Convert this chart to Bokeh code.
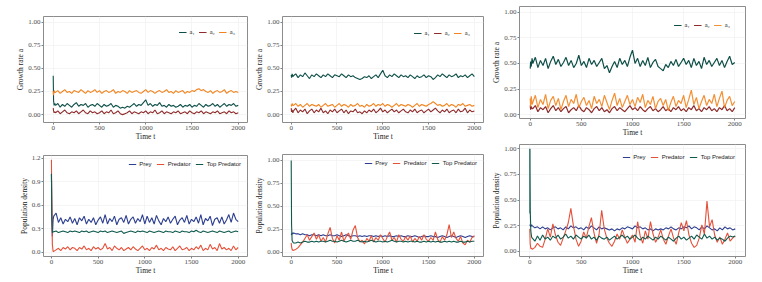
from bokeh.plotting import figure
from bokeh.layouts import row, column
from bokeh.models import FixedTicker, NumeralTickFormatter, Range1d
from bokeh.embed import file_html
from bokeh.resources import INLINE

# ---------------- data ----------------
T_GRID = list(range(25, 2001, 25))      # sampling times after the initial transient
HEAD_T = [0, 4, 10, 18]                 # times of the initial transient

X_TICKS = [0, 500, 1000, 1500, 2000]
Y_TICKS_A = [0, 0.25, 0.5, 0.75, 1.0]
Y_TICKS_P4 = [0, 0.3, 0.6, 0.9, 1.2]

TOP_LABELS = ["a\u2081", "a\u2082", "a\u2083"]
BOT_LABELS = ["Prey", "Predator", "Top Predator"]

# panel 1 (growth rates)
P1_A1_HEAD = [0.42, 0.15, 0.10, 0.12]
P1_A1 = [0.10,0.12,0.08,0.11,0.09,0.12,0.10,0.08,0.11,0.13,
         0.09,0.11,0.10,0.12,0.08,0.10,0.11,0.09,0.12,0.10,
         0.08,0.11,0.09,0.10,0.12,0.08,0.10,0.09,0.07,0.08,
         0.07,0.09,0.08,0.10,0.12,0.09,0.11,0.10,0.13,0.16,
         0.10,0.12,0.09,0.11,0.10,0.13,0.09,0.10,0.08,0.11,
         0.09,0.10,0.08,0.09,0.11,0.08,0.10,0.09,0.11,0.08,
         0.10,0.09,0.12,0.10,0.08,0.11,0.09,0.10,0.12,0.09,
         0.11,0.08,0.10,0.12,0.09,0.11,0.10,0.12,0.09,0.10]
P1_A2_HEAD = [0.07, 0.04, 0.02, 0.03]
P1_A2 = [0.02,0.04,0.01,0.03,0.05,0.02,0.01,0.03,0.02,0.04,
         0.01,0.03,0.05,0.02,0.01,0.04,0.02,0.03,0.01,0.02,
         0.04,0.01,0.03,0.02,0.05,0.01,0.02,0.04,0.01,0.00,
         0.01,0.02,0.04,0.01,0.03,0.02,0.01,0.03,0.02,0.04,
         0.01,0.03,0.02,0.05,0.01,0.02,0.04,0.01,0.03,0.02,
         0.01,0.03,0.02,0.04,0.01,0.02,0.03,0.01,0.04,0.02,
         0.01,0.03,0.02,0.04,0.01,0.03,0.02,0.01,0.03,0.02,
         0.04,0.01,0.02,0.03,0.01,0.04,0.02,0.03,0.01,0.02]
P1_A3_HEAD = [0.25, 0.21, 0.26, 0.24]
P1_A3 = [0.24,0.26,0.23,0.25,0.27,0.24,0.25,0.23,0.26,0.25,
         0.24,0.27,0.25,0.23,0.26,0.24,0.25,0.27,0.24,0.26,
         0.23,0.25,0.26,0.24,0.25,0.27,0.23,0.25,0.24,0.26,
         0.25,0.23,0.26,0.24,0.25,0.26,0.24,0.23,0.25,0.27,
         0.24,0.26,0.25,0.23,0.25,0.26,0.24,0.25,0.27,0.24,
         0.25,0.23,0.26,0.24,0.25,0.26,0.23,0.25,0.24,0.26,
         0.25,0.27,0.28,0.26,0.27,0.25,0.24,0.26,0.23,0.25,
         0.26,0.24,0.25,0.27,0.23,0.25,0.26,0.24,0.25,0.24]

# panel 2 (growth rates)
P2_A1_HEAD = [0.43, 0.40, 0.44, 0.41]
P2_A1 = [0.42,0.44,0.40,0.43,0.41,0.45,0.42,0.39,0.43,0.41,
         0.44,0.42,0.40,0.43,0.41,0.44,0.42,0.40,0.43,0.42,
         0.41,0.44,0.42,0.40,0.43,0.41,0.42,0.40,0.39,0.38,
         0.39,0.41,0.40,0.42,0.39,0.41,0.43,0.40,0.44,0.48,
         0.42,0.40,0.43,0.41,0.44,0.42,0.40,0.43,0.41,0.42,
         0.40,0.43,0.41,0.39,0.42,0.40,0.41,0.43,0.40,0.42,
         0.41,0.38,0.40,0.43,0.41,0.44,0.42,0.40,0.43,0.41,
         0.42,0.44,0.40,0.42,0.41,0.43,0.40,0.42,0.44,0.41]
P2_A2_HEAD = [0.07, 0.03, 0.05, 0.02]
P2_A2 = [0.04,0.07,0.02,0.05,0.03,0.06,0.01,0.04,0.06,0.02,
         0.05,0.03,0.07,0.02,0.04,0.01,0.05,0.03,0.06,0.02,
         0.04,0.06,0.02,0.05,0.01,0.04,0.03,0.06,0.02,0.03,
         0.01,0.04,0.02,0.05,0.03,0.06,0.02,0.04,0.07,0.03,
         0.05,0.02,0.04,0.06,0.03,0.05,0.02,0.04,0.06,0.03,
         0.02,0.05,0.03,0.06,0.02,0.04,0.05,0.02,0.04,0.06,
         0.03,0.05,0.07,0.04,0.02,0.05,0.03,0.06,0.02,0.04,
         0.05,0.02,0.06,0.03,0.04,0.07,0.02,0.05,0.03,0.04]
P2_A3_HEAD = [0.11, 0.09, 0.12, 0.10]
P2_A3 = [0.10,0.12,0.09,0.11,0.08,0.10,0.12,0.09,0.11,0.10,
         0.09,0.11,0.08,0.10,0.12,0.09,0.10,0.11,0.08,0.10,
         0.12,0.09,0.11,0.10,0.08,0.11,0.09,0.10,0.12,0.09,
         0.10,0.08,0.11,0.09,0.10,0.12,0.09,0.11,0.10,0.12,
         0.09,0.11,0.10,0.08,0.10,0.12,0.09,0.11,0.10,0.09,
         0.11,0.10,0.08,0.10,0.12,0.09,0.11,0.10,0.09,0.11,
         0.12,0.14,0.12,0.10,0.11,0.09,0.10,0.12,0.09,0.11,
         0.10,0.08,0.11,0.10,0.12,0.09,0.10,0.11,0.09,0.10]

# panel 3 (growth rates)
P3_A1_HEAD = [0.45, 0.52, 0.47, 0.55]
P3_A1 = [0.50,0.56,0.46,0.53,0.48,0.55,0.45,0.52,0.57,0.49,
         0.54,0.47,0.51,0.56,0.48,0.53,0.46,0.50,0.58,0.48,
         0.52,0.46,0.55,0.49,0.53,0.47,0.51,0.55,0.45,0.48,
         0.41,0.47,0.52,0.46,0.55,0.49,0.53,0.47,0.56,0.63,
         0.50,0.55,0.47,0.53,0.48,0.56,0.46,0.51,0.54,0.47,
         0.45,0.43,0.49,0.46,0.52,0.48,0.54,0.47,0.51,0.55,
         0.49,0.53,0.46,0.55,0.48,0.52,0.45,0.56,0.49,0.53,
         0.47,0.51,0.55,0.48,0.53,0.46,0.52,0.57,0.49,0.51]
P3_A2_HEAD = [0.09, 0.05, 0.08, 0.06]
P3_A2 = [0.06,0.09,0.03,0.07,0.05,0.08,0.02,0.06,0.09,0.04,
         0.07,0.03,0.06,0.08,0.02,0.05,0.07,0.04,0.09,0.05,
         0.03,0.07,0.05,0.02,0.06,0.08,0.04,0.07,0.03,0.05,
         0.02,0.06,0.08,0.04,0.07,0.05,0.03,0.06,0.09,0.05,
         0.07,0.04,0.08,0.05,0.03,0.06,0.08,0.04,0.06,0.03,
         0.05,0.08,0.04,0.06,0.03,0.07,0.05,0.08,0.04,0.06,
         0.03,0.07,0.05,0.09,0.04,0.06,0.03,0.07,0.05,0.08,
         0.04,0.06,0.03,0.07,0.05,0.09,0.04,0.06,0.03,0.07]
P3_A3_HEAD = [0.16, 0.08, 0.18, 0.10]
P3_A3 = [0.12,0.19,0.07,0.15,0.10,0.20,0.06,0.14,0.18,0.09,
         0.16,0.05,0.13,0.19,0.08,0.15,0.11,0.20,0.07,0.13,
         0.17,0.09,0.14,0.06,0.18,0.11,0.15,0.08,0.19,0.12,
         0.05,0.14,0.21,0.09,0.16,0.07,0.13,0.19,0.10,0.15,
         0.08,0.17,0.12,0.20,0.07,0.14,0.10,0.18,0.06,0.13,
         0.16,0.09,0.15,0.04,0.12,0.18,0.08,0.14,0.11,0.19,
         0.07,0.15,0.24,0.10,0.17,0.06,0.13,0.19,0.09,0.15,
         0.11,0.20,0.08,0.16,0.23,0.07,0.14,0.18,0.09,0.13]

# panel 4 (population densities)
P4_PREY_HEAD = [1.0, 0.5, 0.2, 0.42]
P4_PREY = [0.46,0.50,0.38,0.44,0.36,0.42,0.39,0.45,0.37,0.43,
           0.35,0.44,0.40,0.46,0.36,0.42,0.38,0.44,0.35,0.41,
           0.45,0.37,0.48,0.36,0.43,0.39,0.46,0.35,0.42,0.44,
           0.38,0.47,0.36,0.42,0.45,0.37,0.43,0.39,0.48,0.36,
           0.46,0.38,0.44,0.36,0.47,0.40,0.35,0.43,0.39,0.45,
           0.37,0.42,0.46,0.35,0.41,0.44,0.38,0.47,0.36,0.42,
           0.39,0.45,0.37,0.48,0.35,0.43,0.40,0.46,0.34,0.42,
           0.44,0.37,0.45,0.36,0.41,0.48,0.38,0.50,0.42,0.39]
P4_PRED_HEAD = [1.18, 0.6, 0.1, 0.01]
P4_PRED = [0.01,0.03,0.05,0.02,0.06,0.04,0.07,0.03,0.06,0.05,
           0.02,0.06,0.04,0.08,0.03,0.05,0.02,0.07,0.04,0.06,
           0.03,0.05,0.11,0.04,0.06,0.02,0.08,0.05,0.03,0.06,
           0.02,0.04,0.06,0.03,0.07,0.04,0.02,0.05,0.08,0.03,
           0.05,0.02,0.06,0.04,0.09,0.03,0.05,0.02,0.06,0.04,
           0.03,0.07,0.02,0.05,0.08,0.03,0.04,0.06,0.02,0.05,
           0.03,0.07,0.04,0.09,0.02,0.05,0.03,0.10,0.04,0.06,
           0.02,0.11,0.04,0.06,0.03,0.05,0.02,0.08,0.03,0.06]
P4_TOP_HEAD = [1.0, 0.45, 0.25, 0.26]
P4_TOP = [0.26,0.27,0.25,0.26,0.27,0.26,0.25,0.27,0.26,0.27,
          0.26,0.25,0.27,0.26,0.27,0.25,0.26,0.27,0.26,0.25,
          0.27,0.26,0.27,0.25,0.26,0.27,0.26,0.25,0.26,0.27,
          0.24,0.25,0.26,0.27,0.26,0.25,0.27,0.26,0.27,0.26,
          0.25,0.27,0.26,0.25,0.26,0.27,0.26,0.25,0.27,0.26,
          0.26,0.25,0.27,0.26,0.25,0.27,0.26,0.26,0.25,0.27,
          0.26,0.28,0.26,0.25,0.27,0.26,0.25,0.26,0.27,0.26,
          0.25,0.27,0.26,0.25,0.26,0.27,0.25,0.26,0.27,0.26]

# panel 5 (population densities)
P5_PREY_HEAD = [0.20, 0.19, 0.21, 0.20]
P5_PREY = [0.21,0.20,0.20,0.19,0.20,0.19,0.19,0.18,0.19,0.19,
           0.18,0.19,0.18,0.19,0.18,0.18,0.19,0.18,0.18,0.19,
           0.18,0.17,0.18,0.19,0.18,0.17,0.18,0.18,0.17,0.18,
           0.17,0.18,0.17,0.18,0.18,0.17,0.18,0.17,0.18,0.17,
           0.18,0.17,0.18,0.17,0.17,0.18,0.17,0.18,0.17,0.17,
           0.18,0.17,0.17,0.18,0.17,0.16,0.17,0.18,0.17,0.17,
           0.18,0.17,0.17,0.16,0.17,0.18,0.17,0.16,0.17,0.18,
           0.17,0.16,0.17,0.18,0.17,0.16,0.17,0.18,0.17,0.17]
P5_PRED_HEAD = [0.10, 0.06, 0.03, 0.02]
P5_PRED = [0.02,0.03,0.05,0.08,0.11,0.15,0.19,0.13,0.17,0.21,
           0.14,0.19,0.12,0.16,0.11,0.20,0.27,0.15,0.10,0.18,
           0.13,0.22,0.12,0.17,0.21,0.14,0.24,0.29,0.16,0.11,
           0.13,0.09,0.15,0.12,0.18,0.11,0.16,0.13,0.19,0.15,
           0.11,0.17,0.22,0.13,0.16,0.11,0.19,0.14,0.12,0.17,
           0.13,0.18,0.11,0.15,0.12,0.17,0.13,0.19,0.14,0.12,
           0.16,0.13,0.22,0.14,0.11,0.17,0.13,0.19,0.30,0.16,
           0.22,0.15,0.12,0.17,0.10,0.08,0.13,0.11,0.16,0.18]
P5_TOP_HEAD = [1.0, 0.3, 0.13, 0.11]
P5_TOP = [0.10,0.10,0.11,0.10,0.11,0.12,0.11,0.11,0.12,0.11,
          0.12,0.11,0.12,0.12,0.11,0.12,0.13,0.12,0.12,0.11,
          0.12,0.13,0.12,0.11,0.12,0.13,0.12,0.12,0.13,0.12,
          0.11,0.12,0.11,0.12,0.13,0.12,0.11,0.12,0.12,0.11,
          0.12,0.11,0.12,0.13,0.12,0.11,0.12,0.12,0.11,0.12,
          0.11,0.12,0.12,0.11,0.12,0.11,0.11,0.12,0.11,0.12,
          0.11,0.12,0.11,0.12,0.11,0.11,0.12,0.11,0.12,0.11,
          0.12,0.11,0.11,0.12,0.11,0.11,0.12,0.11,0.12,0.12]

# panel 6 (population densities)
P6_PREY_HEAD = [0.25, 0.26, 0.24, 0.26]
P6_PREY = [0.25,0.23,0.24,0.22,0.24,0.22,0.23,0.21,0.23,0.24,
           0.22,0.23,0.21,0.24,0.22,0.25,0.23,0.24,0.22,0.23,
           0.21,0.24,0.22,0.25,0.23,0.21,0.24,0.22,0.23,0.22,
           0.21,0.22,0.20,0.22,0.21,0.23,0.22,0.24,0.23,0.22,
           0.25,0.23,0.24,0.22,0.23,0.21,0.22,0.20,0.22,0.21,
           0.22,0.21,0.23,0.22,0.24,0.22,0.21,0.23,0.22,0.24,
           0.23,0.25,0.22,0.24,0.23,0.21,0.24,0.22,0.25,0.23,
           0.21,0.22,0.20,0.23,0.21,0.24,0.22,0.23,0.21,0.22]
P6_PRED_HEAD = [0.22, 0.08, 0.03, 0.03]
P6_PRED = [0.02,0.04,0.08,0.05,0.04,0.12,0.22,0.14,0.27,0.16,
           0.09,0.06,0.13,0.20,0.28,0.42,0.25,0.12,0.05,0.10,
           0.19,0.13,0.24,0.33,0.18,0.08,0.17,0.40,0.22,0.13,
           0.08,0.05,0.10,0.17,0.12,0.21,0.14,0.08,0.12,0.16,
           0.09,0.29,0.15,0.08,0.20,0.12,0.29,0.17,0.09,0.14,
           0.21,0.12,0.07,0.15,0.22,0.13,0.07,0.18,0.28,0.20,
           0.30,0.16,0.08,0.04,0.06,0.13,0.26,0.17,0.49,0.24,
           0.31,0.16,0.09,0.14,0.07,0.12,0.18,0.10,0.13,0.15]
P6_TOP_HEAD_T = [0, 1, 2, 3, 5, 10, 18]
P6_TOP_HEAD = [1.0, 0.37, 1.0, 0.75, 0.40, 0.20, 0.14]
P6_TOP = [0.13,0.10,0.15,0.11,0.16,0.12,0.14,0.11,0.15,0.13,
          0.16,0.12,0.14,0.17,0.13,0.15,0.12,0.16,0.14,0.12,
          0.15,0.13,0.16,0.12,0.14,0.11,0.15,0.13,0.12,0.14,
          0.11,0.13,0.15,0.12,0.14,0.16,0.13,0.15,0.12,0.14,
          0.16,0.13,0.11,0.14,0.12,0.15,0.13,0.11,0.14,0.12,
          0.15,0.13,0.11,0.14,0.12,0.10,0.13,0.15,0.12,0.14,
          0.11,0.13,0.15,0.12,0.16,0.14,0.12,0.17,0.13,0.15,
          0.12,0.14,0.11,0.13,0.12,0.10,0.13,0.15,0.14,0.15]

# ---------------- style ----------------
C_A1, C_A2, C_A3 = "#0D4F48", "#8E2B2B", "#F2841F"
C_PREY, C_PRED, C_TOP = "#2C3E8F", "#E4513A", "#0F5A4D"
SERIF = "Liberation Serif"
SANS = "Liberation Sans"


def panel(width, height, borders, xr, yr, yticks, yfmt, ylabel, series,
          leg_font, leg_size, leg_margin, leg_spacing, lw,
          tick_size="7px", title_size="7.5px"):
    bl, br, bt, bb = borders
    p = figure(width=width, height=height, x_range=Range1d(*xr), y_range=Range1d(*yr),
               output_backend="svg", toolbar_location=None,
               min_border_left=bl, min_border_right=br, min_border_top=bt, min_border_bottom=bb)
    p.background_fill_color = "white"
    p.border_fill_color = "white"
    p.outline_line_color = "#8c8c8c"
    p.outline_line_width = 1
    p.grid.grid_line_color = "#eeeeee"
    p.grid.grid_line_width = 0.6
    for label, color, ht, hv, vals, alpha in series:
        p.line(ht + T_GRID, hv + vals, line_color=color, line_width=lw,
               line_alpha=alpha, legend_label=label)
    for ax in (p.xaxis[0], p.yaxis[0]):
        ax.axis_line_color = None
        ax.major_tick_line_color = "#7f7f7f"
        ax.major_tick_in = 0
        ax.major_tick_out = 2
        ax.minor_tick_line_color = None
        ax.major_label_text_font = SERIF
        ax.major_label_text_font_size = tick_size
        ax.major_label_text_color = "#4d4d4d"
        ax.axis_label_text_font = SERIF
        ax.axis_label_text_font_size = title_size
        ax.axis_label_text_font_style = "normal"
        ax.axis_label_text_color = "#1a1a1a"
    p.xaxis.major_label_standoff = 1
    p.xaxis.axis_label_standoff = -1
    p.yaxis.major_label_standoff = 1
    p.yaxis.axis_label_standoff = 0
    p.xaxis.ticker = FixedTicker(ticks=X_TICKS)
    p.yaxis.ticker = FixedTicker(ticks=yticks)
    p.yaxis.formatter = NumeralTickFormatter(format=yfmt)
    p.xaxis.axis_label = "Time t"
    p.yaxis.axis_label = ylabel
    lg = p.legend[0]
    lg.orientation = "horizontal"
    lg.location = "top_right"
    lg.margin = leg_margin
    lg.padding = 0
    lg.spacing = leg_spacing
    lg.label_standoff = 3
    lg.glyph_width = 8
    lg.glyph_height = 6
    lg.label_height = 6
    lg.label_width = 2
    lg.label_text_font = leg_font
    lg.label_text_font_size = leg_size
    lg.label_text_color = "#1a1a1a"
    lg.border_line_color = None
    lg.background_fill_alpha = 0
    return p


def top_series(h1, v1, h2, v2, h3, v3, a3=1.0):
    return [(TOP_LABELS[0], C_A1, HEAD_T, h1, v1, 1.0),
            (TOP_LABELS[1], C_A2, HEAD_T, h2, v2, 1.0),
            (TOP_LABELS[2], C_A3, HEAD_T, h3, v3, a3)]


def bottom_series(prey_h, prey, pred_h, pred, top_t, top_h, top):
    return [(BOT_LABELS[0], C_PREY, HEAD_T, prey_h, prey, 1.0),
            (BOT_LABELS[1], C_PRED, HEAD_T, pred_h, pred, 1.0),
            (BOT_LABELS[2], C_TOP, top_t, top_h, top, 1.0)]


f1 = panel(251, 144, (43, 4, 16, 22), (-105, 2100), (-0.085, 1.06), Y_TICKS_A, "0.00",
           "Growth rate a",
           top_series(P1_A1_HEAD, P1_A1, P1_A2_HEAD, P1_A2, P1_A3_HEAD, P1_A3),
           SERIF, "6.5px", 12, 4, 1.1)
f2 = panel(238, 144, (31, 6, 16, 22), (-95, 2100), (-0.085, 1.06), Y_TICKS_A, "0.00",
           "Growth rate a",
           top_series(P2_A1_HEAD, P2_A1, P2_A2_HEAD, P2_A2, P2_A3_HEAD, P2_A3),
           SERIF, "6.5px", 13, 4, 1.1)
f3 = panel(271, 140, (27, 14, 6, 22), (-105, 2105), (-0.036, 1.055), Y_TICKS_A, "0.00",
           "Growth rate a",
           top_series(P3_A1_HEAD, P3_A1, P3_A2_HEAD, P3_A2, P3_A3_HEAD, P3_A3, 0.9),
           SERIF, "6.5px", 15, 4, 1.2)

f4 = panel(251, 136, (42, 4, 11, 24), (-85, 2100), (-0.055, 1.234), Y_TICKS_P4, "0.0",
           "Population density",
           bottom_series(P4_PREY_HEAD, P4_PREY, P4_PRED_HEAD, P4_PRED,
                         HEAD_T, P4_TOP_HEAD, P4_TOP),
           SANS, "6px", 6, 5, 1.1)
f5 = panel(238, 136, (30, 6, 10, 24), (-95, 2100), (-0.047, 1.065), Y_TICKS_A, "0.00",
           "Population density",
           bottom_series(P5_PREY_HEAD, P5_PREY, P5_PRED_HEAD, P5_PRED,
                         HEAD_T, P5_TOP_HEAD, P5_TOP),
           SANS, "6px", 6, 5, 1.1)
f6 = panel(271, 140, (27, 15, 4, 24), (-100, 2100), (-0.049, 1.042), Y_TICKS_A, "0.00",
           "Population density",
           bottom_series(P6_PREY_HEAD, P6_PREY, P6_PRED_HEAD, P6_PRED,
                         P6_TOP_HEAD_T, P6_TOP_HEAD, P6_TOP),
           SANS, "6px", 10, 5, 1.1)

layout = row(column(f1, f4, spacing=0), column(f2, f5, spacing=0),
             column(f3, f6, spacing=0), spacing=0)

open("out.html", "w").write(file_html(layout, INLINE))
